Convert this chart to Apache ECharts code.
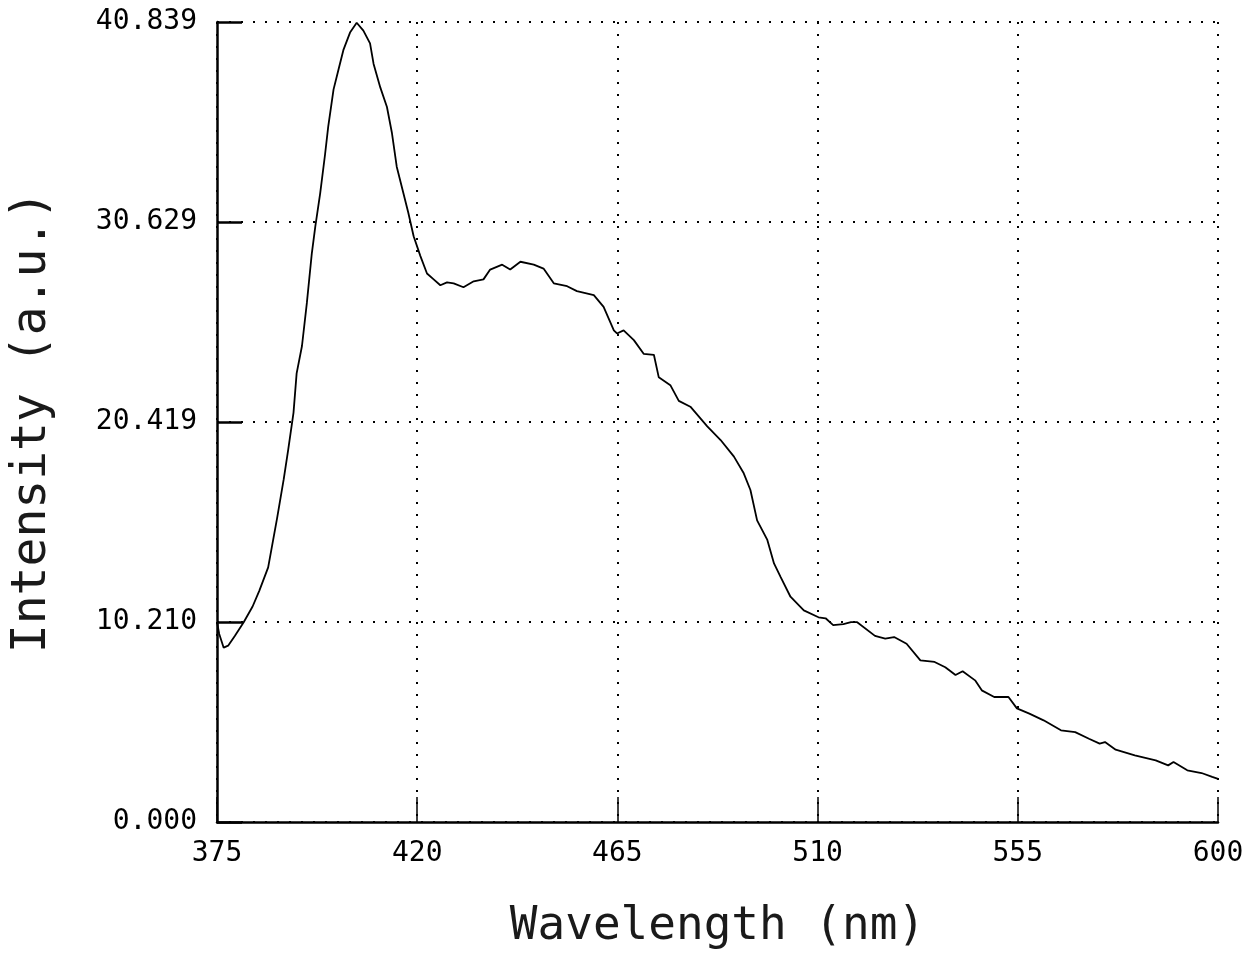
<!DOCTYPE html>
<html>
<head>
<meta charset="utf-8">
<script src="https://cdn.jsdelivr.net/npm/echarts@6/dist/echarts.min.js"></script>
<style>
  html, body { margin: 0; padding: 0; background: #fff; }
  #main { width: 1254px; height: 959px; }
</style>
</head>
<body>
<div id="main"></div>
<script>
// emission spectrum
var wavelengths = [
  375, 375.5, 376.5, 377.5, 379, 381, 383, 384.5, 386.5, 388.5,
  390, 391, 392.2, 392.9, 394.1, 395.2, 396.3, 397.1, 398.2, 399.3,
  400, 401.2, 402.3, 403.4, 404.9, 406.4, 407.9, 409.4, 410.2, 411.7,
  413.2, 414.3, 415.4, 416.9, 418, 419.2, 420.7, 422.2, 423.7, 425.2,
  426.7, 428.2, 430.4, 432.7, 434.9, 436.4, 439.1, 440.9, 443.2, 446.2,
  448.4, 450.7, 453.7, 455.9, 459.7, 461.9, 464.2, 464.9, 466.4, 468.7,
  470.9, 473.2, 474.3, 476.9, 478.8, 481.4, 485.2, 488.2, 491.2, 493.4,
  494.9, 496.4, 498.7, 500.2, 501.7, 503.9, 506.9, 510.2, 511.8, 513.5,
  515.8, 517.5, 518.9, 522.9, 525.2, 527.2, 530, 533.1, 536.3, 538.7,
  541, 542.6, 545.4, 546.9, 549.7, 552.9, 554.8, 557.6, 560.8, 564.7,
  567.9, 571, 573.4, 574.6, 577, 581.3, 586, 588.8, 590, 593.1,
  596.3, 598.7, 600
];
var intensity = [
  10.2, 9.6, 8.9, 9.0, 9.5, 10.2, 11.0, 11.8, 13.0, 15.5,
  17.5, 19.0, 20.9, 22.9, 24.3, 26.5, 29.0, 30.4, 32.1, 34.1,
  35.5, 37.4, 38.4, 39.4, 40.3, 40.8, 40.4, 39.75, 38.7, 37.5,
  36.5, 35.2, 33.45, 32.1, 31.1, 29.9, 28.9, 28.0, 27.7, 27.4,
  27.55, 27.5, 27.3, 27.6, 27.7, 28.2, 28.45, 28.2, 28.6, 28.45,
  28.25, 27.5, 27.35, 27.1, 26.9, 26.3, 25.1, 24.94, 25.1, 24.6,
  23.9, 23.85, 22.7, 22.3, 21.5, 21.2, 20.2, 19.5, 18.65, 17.8,
  16.95, 15.4, 14.4, 13.2, 12.5, 11.5, 10.8, 10.45, 10.4, 10.05,
  10.1, 10.2, 10.2, 9.5, 9.36, 9.44, 9.1, 8.25, 8.17, 7.9,
  7.5, 7.7, 7.23, 6.72, 6.38, 6.38, 5.8, 5.53, 5.19, 4.68,
  4.59, 4.25, 4.0, 4.08, 3.69, 3.4, 3.15, 2.89, 3.06, 2.64,
  2.5, 2.3, 2.2
];
var xTicks = [375, 420, 465, 510, 555, 600];
var yTicks = ['0.000', '10.210', '20.419', '30.629', '40.839'];

var yMax = 40.839;
var font = 'DejaVu Sans Mono';

var points = wavelengths.map(function (w, i) { return [w, intensity[i]]; });

var myChart = echarts.init(document.getElementById('main'));
myChart.setOption({
  backgroundColor: '#fff',
  animation: false,
  grid: { left: 217, right: 36, top: 22, bottom: 137 },
  xAxis: {
    type: 'value',
    min: xTicks[0],
    max: xTicks[xTicks.length - 1],
    interval: 45,
    name: 'Wavelength (nm)',
    nameLocation: 'middle',
    nameGap: 82,
    nameTextStyle: { fontFamily: font, fontSize: 46, color: '#1a1a1a' },
    axisLine: { lineStyle: { color: '#000', width: 2.5 } },
    axisTick: { inside: true, length: 25, lineStyle: { color: '#000', width: 1.5 } },
    axisLabel: { fontFamily: font, fontSize: 28, color: '#000', margin: 18 },
    splitLine: { show: true, lineStyle: { color: '#000', width: 2, type: [2, 10] } }
  },
  yAxis: {
    type: 'value',
    min: 0,
    max: yMax,
    interval: yMax / 4,
    name: 'Intensity (a.u.)',
    nameLocation: 'middle',
    nameGap: 160,
    nameTextStyle: { fontFamily: font, fontSize: 48, color: '#1a1a1a' },
    axisLine: { lineStyle: { color: '#000', width: 2.5 } },
    axisTick: { inside: true, length: 25, lineStyle: { color: '#000', width: 2.5 } },
    axisLabel: {
      fontFamily: font, fontSize: 28, color: '#000', margin: 20,
      formatter: function (v, i) { return yTicks[i]; }
    },
    splitLine: { show: true, lineStyle: { color: '#000', width: 2, type: [2, 10] } }
  },
  series: [{
    type: 'line',
    data: points,
    showSymbol: false,
    lineStyle: { color: '#000', width: 1.8 }
  }]
});
</script>
</body>
</html>
